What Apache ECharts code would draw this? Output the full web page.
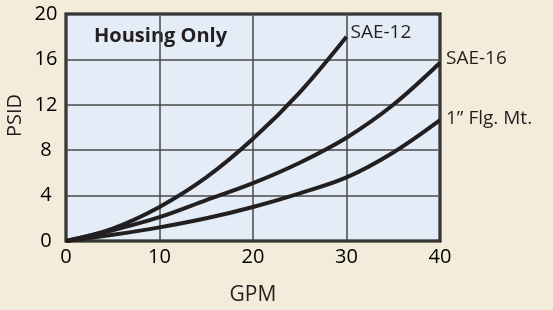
<!DOCTYPE html>
<html>
<head>
<meta charset="utf-8">
<script src="https://cdn.jsdelivr.net/npm/echarts@6/dist/echarts.min.js"></script>
<style>
  html, body { margin: 0; padding: 0; background: #f4ecdb; }
  #chart { width: 553px; height: 310px; }
</style>
</head>
<body>
<div id="chart"></div>
<script>
// flow (GPM) and pressure drop (PSID)
const gpm = [0, 5, 10, 15, 20, 25, 30, 35, 40];
const sae12 = [0, 1.1, 3.0, 5.6, 9.0, 13.1, 18.0];
const sae16 = [0, 0.95, 2.1, 3.6, 5.1, 6.9, 9.1, 12.0, 15.7];
const flg = [0, 0.55, 1.2, 2.0, 3.0, 4.2, 5.6, 7.8, 10.65];
const seriesNames = ["SAE-12", "SAE-16", "1\u201d Flg. Mt."];
const xTicks = [0, 10, 20, 30, 40];
const yTicks = [0, 4, 8, 12, 16, 20];

const font = "'Open Sans', 'Noto Sans', sans-serif";
const ink = "#231f20";

function pairs(values) {
  return values.map(function (v, i) { return [gpm[i], v]; });
}

const labelOffsets = [[-4, -4], [-2, -4], [-2, -2]];

const chart = echarts.init(document.getElementById("chart"));
const option = {
  backgroundColor: "#f4ecdb",
  animation: false,
  grid: {
    left: 66,
    right: 113,
    top: 14,
    bottom: 69,
    containLabel: false,
    outerBoundsMode: "none",
    show: true,
    backgroundColor: "#e4ecf7",
    borderColor: "#000",
    borderWidth: 3,
  },
  graphic: [
    {
      type: "text",
      left: 94,
      top: 26,
      style: {
        text: "Housing Only",
        font: "bold 20px " + font,
        fill: ink,
      },
    },
  ],
  xAxis: {
    type: "value",
    min: xTicks[0],
    max: xTicks[xTicks.length - 1],
    interval: 10,
    name: "GPM",
    nameLocation: "middle",
    nameGap: 44,
    nameMoveOverlap: false,
    nameTextStyle: { fontFamily: font, fontSize: 21, color: ink },
    axisLine: { show: false },
    axisTick: { show: false },
    axisLabel: { fontFamily: font, fontSize: 20, color: "#000", margin: 6 },
    splitLine: { show: true, lineStyle: { color: "#4a4a4a", width: 1.5 } },
  },
  yAxis: {
    type: "value",
    min: yTicks[0],
    max: yTicks[yTicks.length - 1],
    interval: 4,
    name: "PSID",
    nameLocation: "middle",
    nameGap: 41,
    nameMoveOverlap: false,
    nameTextStyle: { fontFamily: font, fontSize: 20, color: ink, padding: [0, 0, 0, 24] },
    axisLine: { show: false },
    axisTick: { show: false },
    axisLabel: { fontFamily: font, fontSize: 20, color: "#000", margin: 20, align: "center" },
    splitLine: { show: true, lineStyle: { color: "#4a4a4a", width: 1.5 } },
  },
  series: [sae12, sae16, flg].map(function (vals, i) {
    return {
      name: seriesNames[i],
      type: "line",
      data: pairs(vals),
      smooth: 0.35,
      symbol: "none",
      lineStyle: { color: ink, width: 4 },
      endLabel: {
        show: true,
        formatter: "{a}",
        fontFamily: font,
        fontSize: 19,
        color: ink,
        offset: labelOffsets[i],
      },
      z: 3,
    };
  }),
};
chart.setOption(option);
window.addEventListener("resize", function () {
  chart.resize();
});
</script>
</body>
</html>
